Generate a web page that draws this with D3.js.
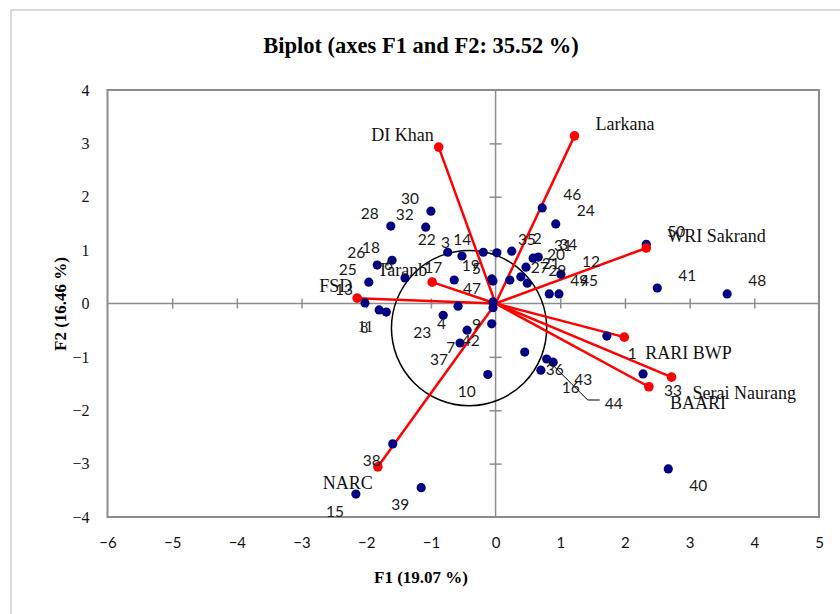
<!DOCTYPE html>
<html lang="en">
	<head>
		<meta charset="utf-8">
		<title>Biplot (axes F1 and F2)</title>
		<script type="text/javascript" src="https://cdn.jsdelivr.net/npm/d3@7"></script>
		<style type="text/css">
			body { margin: 0; background: #fff; }
			.serif { font-family: "Liberation Serif", "Times New Roman", serif; }
			.sans { font-family: Lato, "Liberation Sans", sans-serif; }
		</style>
	</head>
	<body>
		<script type="text/javascript">
			//Width and height
			var w = 840;
			var h = 614;

			//Observations (F1, F2)
			var obsNames = ["1","2","3","4","5","6","7","8","9","10",
			                "11","12","13","14","15","16","17","18","19","20",
			                "21","22","23","24","25","26","27","28","29","30",
			                "31","32","33","34","35","36","37","38","39","40",
			                "41","42","43","44","45","46","47","48","49","50"];
			var obsF1 = [1.72, 0.25, -0.52, -0.58, -0.04, -1.40, -0.44, -1.69, -0.04, -0.12,
			             -1.80, 1.01, -2.02, -0.19, -2.16, 0.70, -0.64, -1.60, -0.06, 0.47,
			             0.39, -0.74, -0.81, 0.93, -1.96, -1.83, 0.22, -1.62, 0.49, -1.00,
			             0.58, -1.08, 2.28, 0.66, 0.02, 0.45, -0.55, -1.59, -1.15, 2.67,
			             2.50, -0.06, 0.89, 0.79, 0.98, 0.72, -0.04, 3.58, 0.83, 2.33];
			var obsF2 = [-0.61, 0.98, 0.89, -0.05, 0.42, 0.48, -0.50, -0.16, -0.08, -1.33,
			             -0.12, 0.55, 0.01, 0.96, -3.57, -1.25, 0.44, 0.81, 0.46, 0.68,
			             0.50, 0.96, -0.22, 1.49, 0.40, 0.72, 0.44, 1.45, 0.38, 1.73,
			             0.85, 1.43, -1.32, 0.87, 0.95, -0.91, -0.74, -2.63, -3.45, -3.10,
			             0.29, -0.38, -1.10, -1.04, 0.18, 1.79, 0.03, 0.18, 0.18, 1.11];

			//Variables (F1, F2)
			var varNames = ["Larkana", "DI Khan", "WRI Sakrand", "Taranb", "FSD",
			                "RARI BWP", "Serai Naurang", "BAARI", "NARC"];
			var varF1 = [1.22, -0.88, 2.33, -0.98, -2.14, 1.99, 2.72, 2.37, -1.82];
			var varF2 = [3.14, 2.93, 1.04, 0.40, 0.10, -0.63, -1.38, -1.56, -3.06];

			//Ticks
			var xTicks = [-6, -5, -4, -3, -2, -1, 0, 1, 2, 3, 4, 5];
			var yTicks = [-4, -3, -2, -1, 0, 1, 2, 3, 4];

			//Hand drawn circle (centre in F1/F2, radius in F1 units)
			var circleCenter = [-0.41, -0.46];
			var circleRadius = 1.2;

			var obs = obsNames.map(function(n, i) { return {name: n, x: obsF1[i], y: obsF2[i]}; });
			var vars = varNames.map(function(n, i) { return {name: n, x: varF1[i], y: varF2[i]}; });

			//Labels that were moved by hand in the original
			var serifObs = ["8", "11"];
			var movedLabel = {"44": [58, 50]};          // with leader line
			var nudge = {"8": [-6, -2], "11": [6, 0]};   // small shifts, no leader

			var x = d3.scaleLinear().domain([-6, 5]).range([107.5, 819]);
			var y = d3.scaleLinear().domain([-4, 4]).range([517, 90]);

			//Create SVG element
			var svg = d3.select("body")
						.append("svg")
						.attr("width", w)
						.attr("height", h);

			//Outer chart border
			svg.append("rect")
			   .attr("x", 11).attr("y", 10)
			   .attr("width", 850).attr("height", 620)
			   .style("fill", "none")
			   .style("stroke", "#b4b4b4")
			   .style("stroke-width", 1);

			//Title
			svg.append("text")
			   .attr("class", "serif")
			   .attr("x", 421).attr("y", 53)
			   .attr("text-anchor", "middle")
			   .style("font-size", "22.5px")
			   .style("font-weight", "bold")
			   .text("Biplot (axes F1 and F2: 35.52 %)");

			//Plot frame
			svg.append("rect")
			   .attr("x", x(-6)).attr("y", y(4))
			   .attr("width", x(5) - x(-6)).attr("height", y(-4) - y(4))
			   .style("fill", "none")
			   .style("stroke", "#8c8c8c")
			   .style("stroke-width", 2);

			//Tick labels on the frame
			var xLab = svg.append("g")
						  .attr("transform", "translate(0," + y(-4) + ")")
						  .call(d3.axisBottom(x).tickValues(xTicks).tickSize(0).tickPadding(20));
			xLab.select(".domain").remove();
			xLab.selectAll("text").style("font-size", "15px").style("font-family", "Lato, 'Liberation Sans', sans-serif").attr("fill", "#111");

			var yLab = svg.append("g")
						  .attr("transform", "translate(" + x(-6) + ",0)")
						  .call(d3.axisLeft(y).tickValues(yTicks).tickSize(0).tickPadding(18));
			yLab.select(".domain").remove();
			yLab.selectAll("text").style("font-size", "16px").style("font-family", "'Liberation Serif', serif").attr("fill", "#111");

			//Axes through the origin
			svg.append("line")
			   .attr("x1", x(-6)).attr("x2", x(5))
			   .attr("y1", y(0)).attr("y2", y(0))
			   .style("stroke", "#8c8c8c").style("stroke-width", 1.5);
			svg.append("line")
			   .attr("x1", x(0)).attr("x2", x(0))
			   .attr("y1", y(4)).attr("y2", y(-4))
			   .style("stroke", "#8c8c8c").style("stroke-width", 1.5);

			var xMid = svg.append("g")
						  .attr("transform", "translate(0," + (y(0) - 5) + ")")
						  .call(d3.axisBottom(x).tickValues(xTicks.slice(1, -1)).tickSize(10).tickFormat(""));
			xMid.select(".domain").remove();
			var yMid = svg.append("g")
						  .attr("transform", "translate(" + (x(0) + 6) + ",0)")
						  .call(d3.axisLeft(y).tickValues(yTicks.slice(1, -1)).tickSize(12).tickFormat(""));
			yMid.select(".domain").remove();
			svg.selectAll(".tick line").style("stroke", "#8c8c8c").style("stroke-width", 1.5);

			//Axis titles
			svg.append("text")
			   .attr("class", "serif")
			   .attr("x", 421).attr("y", 583)
			   .attr("text-anchor", "middle")
			   .style("font-size", "17px")
			   .style("font-weight", "bold")
			   .text("F1 (19.07 %)");
			svg.append("text")
			   .attr("class", "serif")
			   .attr("transform", "translate(66,304) rotate(-90)")
			   .attr("text-anchor", "middle")
			   .style("font-size", "17px")
			   .style("font-weight", "bold")
			   .text("F2 (16.46 %)");

			//Circle
			svg.append("circle")
			   .attr("cx", x(circleCenter[0]))
			   .attr("cy", y(circleCenter[1]))
			   .attr("r", x(circleRadius) - x(0))
			   .style("fill", "none")
			   .style("stroke", "#000")
			   .style("stroke-width", 1.5);

			//Variable vectors
			svg.selectAll("line.vec")
			   .data(vars)
			   .enter()
			   .append("line")
			   .attr("class", "vec")
			   .attr("x1", x(0)).attr("y1", y(0))
			   .attr("x2", function(d) { return x(d.x); })
			   .attr("y2", function(d) { return y(d.y); })
			   .style("stroke", "#ff0000")
			   .style("stroke-width", 2.5);

			//Observations
			svg.selectAll("circle.obs")
			   .data(obs)
			   .enter()
			   .append("circle")
			   .attr("class", "obs")
			   .attr("cx", function(d) { return x(d.x); })
			   .attr("cy", function(d) { return y(d.y); })
			   .attr("r", 4.6)
			   .style("fill", "#000080");

			svg.selectAll("circle.var")
			   .data(vars)
			   .enter()
			   .append("circle")
			   .attr("class", "var")
			   .attr("cx", function(d) { return x(d.x); })
			   .attr("cy", function(d) { return y(d.y); })
			   .attr("r", 4.8)
			   .style("fill", "#ff0000");

			//Leader lines for moved labels
			obs.forEach(function(d) {
				var m = movedLabel[d.name];
				if (!m) return;
				var px = x(d.x), py = y(d.y);
				svg.append("polyline")
				   .attr("points", [[px, py], [px + 41, py + 41], [px + 53, py + 41]].join(" "))
				   .style("fill", "none")
				   .style("stroke", "#000")
				   .style("stroke-width", 1);
			});

			//Observation labels
			svg.selectAll("text.obs")
			   .data(obs)
			   .enter()
			   .append("text")
			   .attr("class", function(d) { return serifObs.indexOf(d.name) >= 0 ? "obs serif" : "obs sans"; })
			   .attr("text-anchor", function(d) { return (d.x < 0 && !movedLabel[d.name]) ? "end" : "start"; })
			   .attr("x", function(d) {
				   if (movedLabel[d.name]) return x(d.x) + movedLabel[d.name][0];
				   var base = d.x < 0 ? x(d.x) - 12 : x(d.x) + 21;
				   return base + (nudge[d.name] ? nudge[d.name][0] : 0);
			   })
			   .attr("y", function(d) {
				   if (movedLabel[d.name]) return y(d.y) + movedLabel[d.name][1];
				   var base = d.y >= 0 ? y(d.y) - 7.5 : y(d.y) + 22.5;
				   return base + (nudge[d.name] ? nudge[d.name][1] : 0);
			   })
			   .style("font-size", function(d) { return serifObs.indexOf(d.name) >= 0 ? "16px" : "15.5px"; })
			   .style("fill", "#1a1a1a")
			   .text(function(d) { return d.name; });

			//Variable labels
			svg.selectAll("text.var")
			   .data(vars)
			   .enter()
			   .append("text")
			   .attr("class", "var serif")
			   .attr("text-anchor", function(d) { return d.x < 0 ? "end" : "start"; })
			   .attr("x", function(d) { return d.x < 0 ? x(d.x) - 5 : x(d.x) + 21; })
			   .attr("y", function(d) { return d.y >= 0 ? y(d.y) - 6 : y(d.y) + 22; })
			   .style("font-size", "18px")
			   .style("fill", "#111")
			   .text(function(d) { return d.name; });

		</script>
	</body>
</html>
